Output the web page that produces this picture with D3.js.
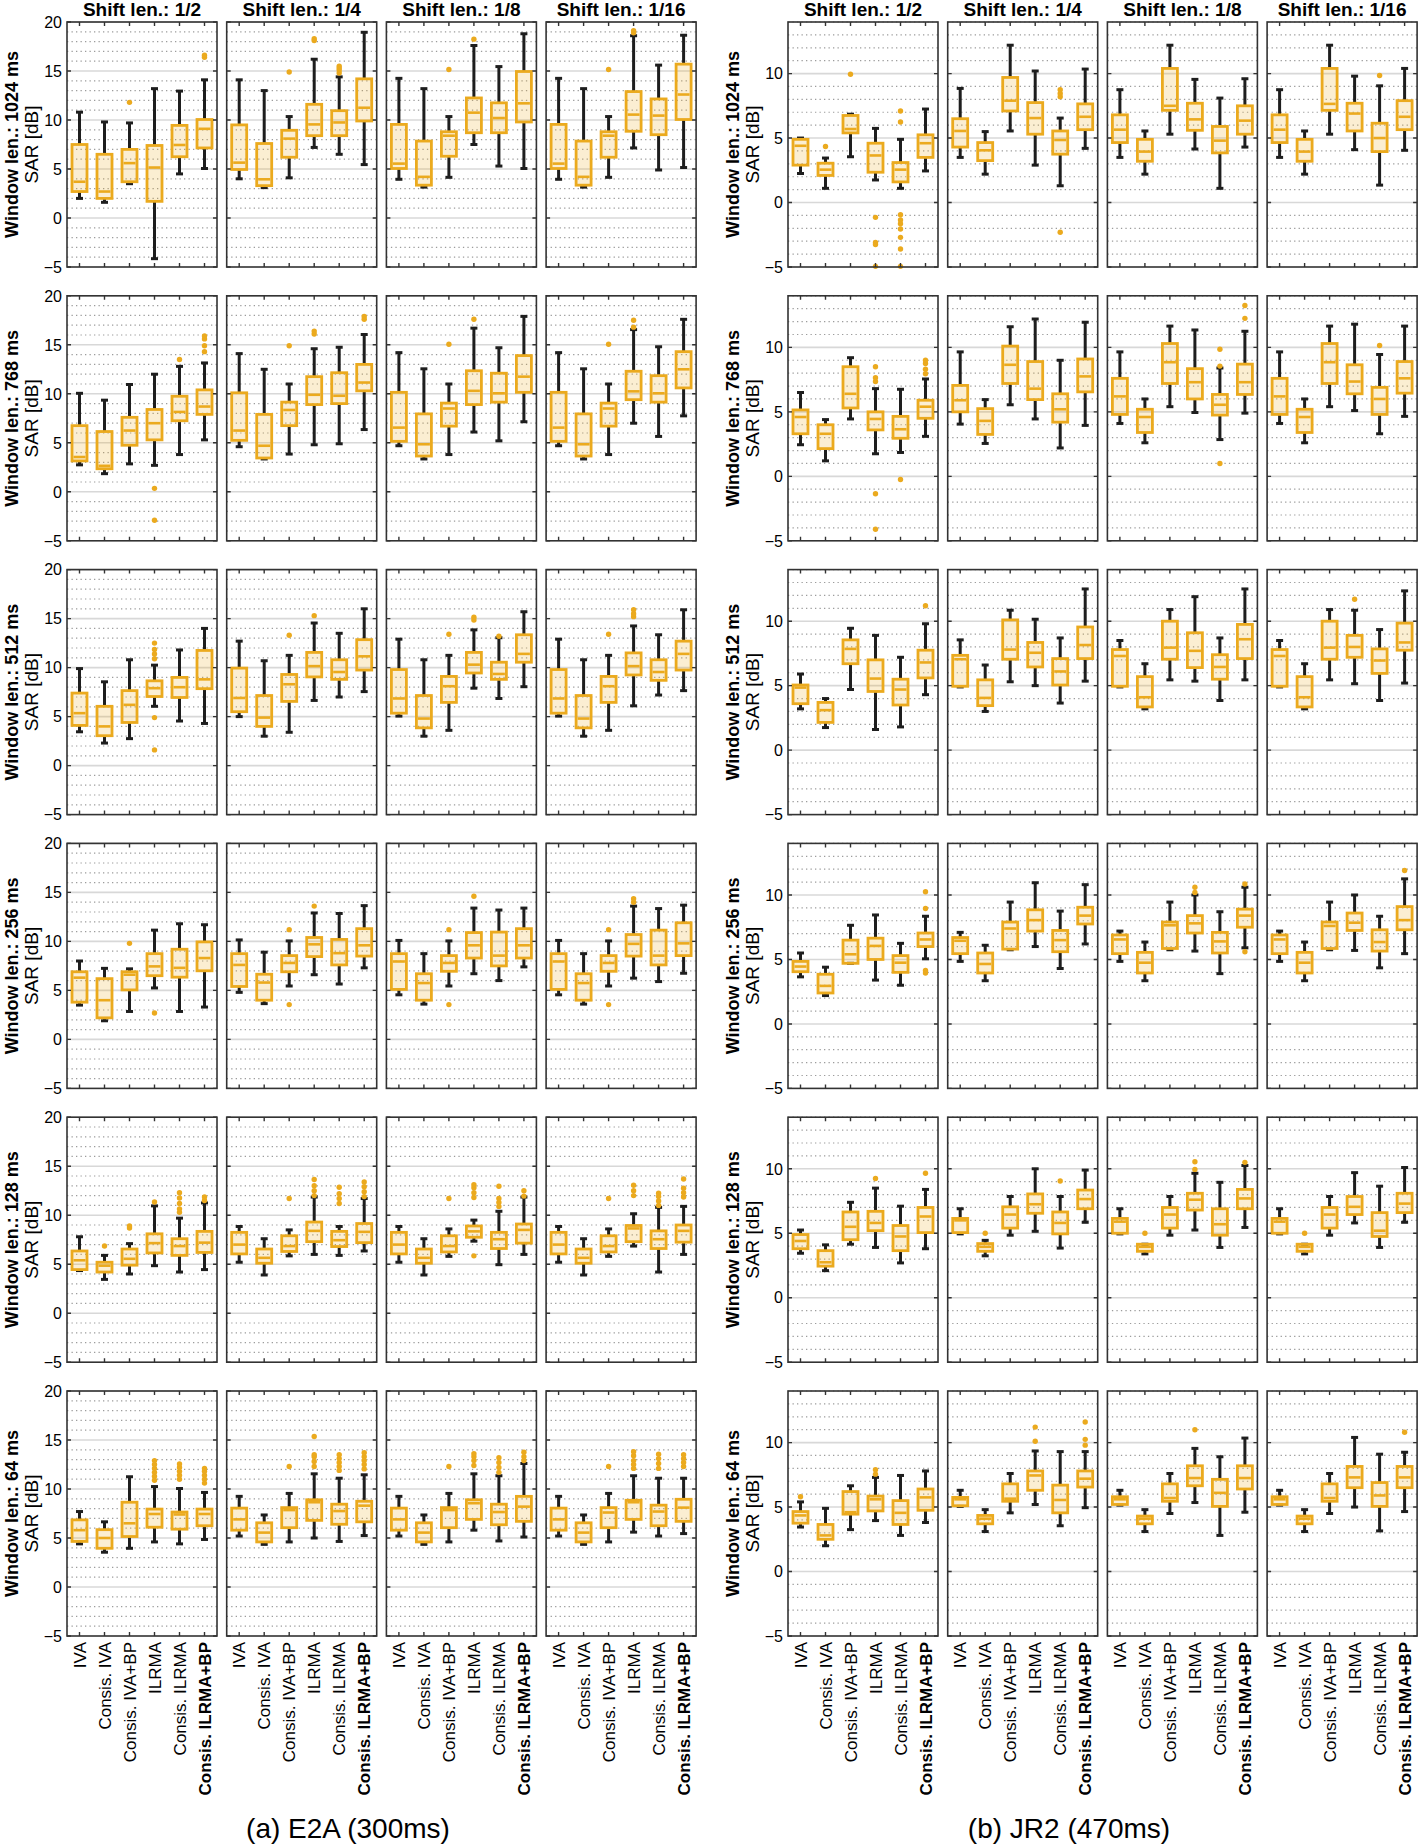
<!DOCTYPE html>
<html>
<head>
<meta charset="utf-8">
<script src="https://cdn.jsdelivr.net/npm/d3@7"></script>
<style>
body { margin: 0; background: #fff; }
svg { display: block; font-family: "Liberation Sans", Arial, sans-serif; }
</style>
</head>
<body>
<main></main>
<script>
// categories / labels
const windowLens = ["1024", "768", "512", "256", "128", "64"];
const shiftLens = ["1/2", "1/4", "1/8", "1/16"];
const methods = ["IVA", "Consis. IVA", "Consis. IVA+BP", "ILRMA", "Consis. ILRMA", "Consis. ILRMA+BP"];
const e2aTicks = [-5, 0, 5, 10, 15, 20];
const jr2Ticks = [-5, 0, 5, 10];

// each box: [lower whisker, q1, median, q3, upper whisker, outliers]
// rows = window length, 4 columns = shift length, 6 boxes = methods
const e2a1024 = [
	[[2.0,2.7,3.7,7.5,10.8,[]],[1.6,2.0,2.7,6.5,9.8,[]],[3.5,3.7,5.6,7.0,9.7,[11.8]],[-4.15,1.7,5.15,7.4,13.2,[]],[4.5,6.25,7.45,9.45,12.95,[]],[5.05,7.15,9.1,10.05,14.1,[16.4,16.6]]],
	[[4.0,4.95,5.65,9.5,14.1,[]],[3.1,3.3,3.95,7.6,13.0,[]],[4.1,6.2,8.1,8.95,10.35,[14.9]],[7.2,8.4,9.55,11.6,16.2,[18.1,18.3]],[6.5,8.4,9.75,10.95,14.4,[14.8,15.1,15.3,15.5]],[5.45,9.9,11.25,14.2,18.95,[]]],
	[[3.95,5.05,5.55,9.55,14.25,[]],[3.15,3.35,4.2,7.85,13.2,[]],[4.15,6.3,8.4,8.8,10.35,[15.15]],[7.5,8.7,10.75,12.25,17.6,[18.25]],[5.3,8.7,10.2,11.75,15.45,[]],[5.05,9.8,11.7,14.95,18.8,[]]],
	[[3.95,5.05,5.55,9.55,14.25,[]],[3.15,3.35,4.2,7.85,13.2,[]],[4.15,6.2,8.4,8.8,10.35,[15.15]],[7.15,8.85,10.55,12.9,18.6,[18.9,19.1]],[4.9,8.5,10.45,12.15,15.6,[]],[5.15,10.05,12.6,15.7,18.65,[]]]
];
const e2a768 = [
	[[2.75,3.15,3.55,6.75,10.05,[]],[1.85,2.35,2.65,6.15,9.35,[]],[2.85,4.75,6.25,7.6,10.95,[]],[2.7,5.3,7.0,8.4,12.0,[0.35,-2.9]],[3.8,7.25,8.15,9.75,12.8,[13.5]],[5.3,7.9,8.7,10.4,13.15,[14.3,14.9,15.6,15.9]]],
	[[4.6,5.25,6.25,10.1,14.1,[]],[3.35,3.45,4.7,7.9,12.5,[]],[3.85,6.75,8.35,9.15,11.0,[14.9]],[4.8,8.9,9.9,11.75,14.6,[16.1,16.4]],[4.9,9.0,9.8,12.15,14.75,[]],[6.35,10.3,11.15,13.0,16.05,[17.6,17.9]]],
	[[4.7,5.15,6.55,10.15,14.2,[]],[3.35,3.65,4.85,7.95,12.55,[]],[3.8,6.7,8.5,9.05,11.0,[15.05]],[6.1,8.9,10.3,12.35,16.7,[17.6]],[5.2,9.15,10.05,12.1,14.7,[]],[7.15,10.15,11.75,13.9,17.9,[]]],
	[[4.7,5.15,6.55,10.15,14.2,[]],[3.35,3.65,4.85,7.95,12.55,[]],[3.8,6.7,8.5,9.05,11.0,[15.05]],[7.0,9.4,10.25,12.3,16.55,[16.8,17.5]],[5.65,9.15,10.05,11.85,14.8,[]],[7.75,10.6,12.5,14.3,17.6,[]]]
];
const e2a512 = [
	[[3.45,4.1,5.35,7.4,9.9,[]],[2.3,3.05,4.0,6.05,8.55,[]],[2.75,4.4,6.2,7.65,10.8,[]],[6.05,7.05,7.9,8.65,10.25,[10.9,11.4,11.85,12.5,4.9,1.6]],[4.55,6.95,8.0,9.0,11.8,[]],[4.3,7.85,8.8,11.75,14.0,[]]],
	[[5.0,5.5,6.9,9.95,12.7,[]],[3.0,4.0,4.9,7.15,10.7,[]],[3.4,6.55,8.3,9.3,11.25,[13.3]],[6.65,9.05,10.15,11.55,14.55,[15.3]],[7.0,8.8,9.55,10.8,13.5,[]],[7.55,9.75,11.15,12.85,16.0,[]]],
	[[5.05,5.35,6.85,9.8,12.9,[]],[3.0,3.85,4.8,7.15,10.8,[]],[3.6,6.45,8.1,9.1,11.25,[13.4]],[7.9,9.45,10.3,11.55,13.85,[14.85,15.15]],[6.85,8.8,9.35,10.55,13.05,[13.2]],[8.05,10.55,11.4,13.35,15.7,[]]],
	[[5.05,5.35,6.85,9.8,12.9,[]],[3.0,3.85,4.8,7.15,10.8,[]],[3.6,6.45,8.1,9.1,11.25,[13.4]],[6.1,9.25,10.15,11.5,14.25,[15.2,15.5,15.9]],[7.2,8.7,9.55,10.8,13.35,[]],[7.65,9.75,11.4,12.7,15.9,[]]]
];
const e2a256 = [
	[[3.5,3.8,6.3,6.9,8.0,[]],[1.9,2.2,4.0,6.2,7.25,[]],[2.85,5.05,6.6,6.9,7.2,[9.8]],[5.25,6.5,7.45,8.75,11.15,[2.7]],[2.85,6.35,7.3,9.2,11.8,[]],[3.3,7.0,8.3,9.95,11.7,[]]],
	[[4.8,5.4,7.6,8.75,10.15,[]],[3.65,4.0,5.8,6.65,8.9,[]],[5.45,6.9,7.8,8.55,10.05,[11.2,3.55]],[6.6,8.45,9.7,10.4,12.9,[13.6]],[5.65,7.6,8.8,10.2,12.85,[]],[7.3,8.5,9.6,11.3,13.65,[]]],
	[[4.55,5.1,7.95,8.75,10.1,[]],[3.6,4.0,5.75,6.7,8.75,[]],[5.45,6.95,7.8,8.55,10.05,[11.2,3.55]],[6.7,8.3,9.6,10.9,13.4,[14.6]],[6.0,7.5,8.55,10.95,13.2,[]],[7.4,8.3,9.6,11.3,13.4,[]]],
	[[4.55,5.1,7.95,8.75,10.1,[]],[3.6,4.0,5.75,6.7,8.75,[]],[5.45,6.95,7.8,8.55,10.05,[11.2,3.55]],[6.25,8.5,9.75,10.7,13.6,[14.0,14.35]],[5.9,7.6,8.55,11.15,13.35,[]],[6.75,8.55,9.8,11.9,13.7,[]]]
];
const e2a128 = [
	[[4.35,4.45,5.4,6.35,7.8,[]],[3.45,4.2,4.85,5.2,5.9,[6.85]],[4.0,4.9,5.55,6.55,7.1,[8.7,8.9]],[4.85,6.15,7.15,8.1,10.95,[11.35]],[4.2,5.9,6.85,7.6,9.7,[10.3,10.65,11.2,11.75,12.3]],[4.45,6.2,7.2,8.35,11.25,[11.5,11.85]]],
	[[5.2,6.05,7.0,8.25,8.85,[]],[3.9,5.1,5.65,6.55,7.6,[]],[5.85,6.3,6.85,7.9,8.5,[11.7]],[6.0,7.3,8.4,9.3,11.85,[12.0,12.5,13.0,13.65]],[5.9,6.8,7.45,8.35,8.85,[11.2,11.7,12.2,12.85]],[6.35,7.2,8.3,9.15,11.7,[11.9,12.4,12.9,13.4]]],
	[[5.2,6.05,7.0,8.25,8.85,[]],[3.9,5.1,5.65,6.55,7.6,[]],[5.8,6.25,6.85,7.9,8.6,[11.7]],[7.35,7.75,8.35,8.9,9.5,[5.85,11.8,12.3,12.8,13.1]],[4.95,6.6,7.55,8.25,10.4,[10.9,11.3,11.7,12.95]],[6.0,7.15,8.5,9.1,11.85,[11.95,12.5]]],
	[[5.2,6.05,7.0,8.25,8.85,[]],[3.9,5.1,5.65,6.55,7.6,[]],[5.8,6.25,6.85,7.9,8.6,[11.7]],[6.85,7.3,8.65,8.95,10.15,[12.0,12.5,13.05]],[4.2,6.6,7.55,8.4,10.8,[11.0,11.45,11.9,12.25]],[6.0,7.25,8.4,9.0,10.9,[11.85,12.3,12.75,13.7]]]
];
const e2a64 = [
	[[4.4,4.65,5.8,6.85,7.7,[]],[3.55,3.95,5.0,5.85,6.65,[]],[3.95,5.15,6.5,8.65,11.25,[]],[4.6,6.1,7.45,7.95,10.25,[10.9,11.3,11.7,12.1,12.5,12.9]],[4.4,5.9,7.4,7.65,10.05,[11.0,11.4,11.8,12.2,12.55]],[4.85,6.25,7.45,7.95,9.65,[10.6,11.0,11.4,11.8,12.1]]],
	[[5.2,5.8,6.9,8.05,9.25,[]],[4.35,4.6,5.55,6.55,7.35,[]],[4.6,6.05,7.85,8.1,9.55,[12.3]],[5.0,6.8,8.65,8.9,11.55,[12.3,12.8,13.3,13.5,15.35]],[4.65,6.4,7.75,8.45,11.1,[11.9,12.3,12.7,13.1,13.5]],[5.25,6.65,8.3,8.75,11.45,[12.05,12.5,12.9,13.3,13.7]]],
	[[5.2,5.8,6.9,8.05,9.25,[]],[4.35,4.6,5.55,6.55,7.35,[]],[4.6,6.05,7.85,8.1,9.55,[12.3]],[5.8,6.9,8.55,8.9,11.55,[12.4,12.9,13.3,13.6]],[4.7,6.35,7.65,8.45,11.35,[11.7,12.2,12.7,13.2]],[5.1,6.7,8.2,9.25,12.6,[12.9,13.3,13.75]]],
	[[5.2,5.8,6.9,8.05,9.25,[]],[4.35,4.6,5.55,6.55,7.35,[]],[4.6,6.05,7.6,8.1,9.55,[12.3]],[5.6,6.9,8.65,8.85,11.35,[12.1,12.5,12.9,13.4,13.8]],[5.2,6.25,7.7,8.35,11.1,[12.1,12.6,13.1,13.55]],[5.45,6.7,8.1,8.95,11.1,[12.3,12.7,13.1,13.5]]]
];

const jr21024 = [
	[[2.25,2.9,4.4,4.9,5.0,[]],[1.1,2.1,2.55,3.05,3.45,[4.35]],[3.55,5.4,5.7,6.75,6.85,[9.95]],[1.75,2.35,3.65,4.6,5.75,[-1.15,-3.1,-3.25,-4.95]],[1.1,1.6,2.55,3.1,4.9,[7.1,6.25,-0.95,-1.35,-1.65,-2.05,-2.7,-3.6,-4.95]],[2.45,3.5,4.6,5.25,7.25,[]]],
	[[3.5,4.3,5.55,6.5,8.85,[]],[2.2,3.25,4.05,4.65,5.5,[]],[5.55,7.1,7.9,9.7,12.2,[]],[2.9,5.3,6.55,7.75,10.2,[]],[1.3,3.75,4.85,5.55,6.55,[8.2,8.45,8.75,-2.3]],[4.2,5.65,6.65,7.65,10.35,[]]],
	[[3.5,4.65,5.65,6.8,8.75,[]],[2.2,3.2,3.95,4.9,5.55,[]],[5.3,7.15,7.5,10.4,12.2,[]],[4.15,5.6,6.45,7.7,9.55,[]],[1.1,3.85,4.8,5.9,8.1,[]],[4.3,5.3,6.35,7.5,9.6,[]]],
	[[3.5,4.65,5.65,6.8,8.75,[]],[2.2,3.2,3.95,4.9,5.55,[]],[5.3,7.15,7.65,10.4,12.2,[]],[4.1,5.55,6.9,7.7,9.8,[]],[1.35,3.95,5.0,6.15,9.05,[9.85]],[4.05,5.65,6.65,7.9,10.4,[]]]
];
const jr2768 = [
	[[2.45,3.3,4.6,5.15,6.5,[]],[1.2,2.15,3.3,4.0,4.4,[]],[4.45,5.3,6.4,8.5,9.2,[]],[1.75,3.6,4.45,5.0,6.8,[8.5,7.65,7.35,-1.35,-4.1]],[1.85,2.95,3.65,4.65,6.75,[-0.25]],[3.1,4.5,5.4,5.9,7.55,[7.95,8.3,8.75,9.0]]],
	[[4.05,5.0,5.9,7.05,9.65,[]],[2.55,3.25,4.3,5.25,5.95,[]],[5.55,7.2,8.65,10.1,11.6,[]],[4.45,5.95,6.8,8.9,12.2,[]],[2.2,4.2,5.2,6.4,9.0,[]],[3.95,6.55,7.75,9.1,11.95,[]]],
	[[4.1,4.8,6.2,7.6,9.65,[]],[2.6,3.4,4.6,5.2,6.0,[]],[5.4,7.2,8.85,10.3,11.65,[]],[4.95,6.0,7.3,8.35,11.35,[]],[2.85,4.75,5.55,6.35,8.4,[9.85,8.55,1.0]],[4.9,6.35,7.3,8.7,11.25,[12.25,13.25]]],
	[[4.1,4.8,6.2,7.6,9.65,[]],[2.6,3.4,4.6,5.2,6.0,[]],[5.4,7.2,8.85,10.3,11.65,[]],[5.1,6.4,7.35,8.65,11.8,[]],[3.3,4.8,6.0,6.9,9.45,[10.15]],[4.65,6.45,7.6,8.9,11.65,[]]]
];
const jr2512 = [
	[[3.2,3.6,4.85,5.05,5.9,[]],[1.75,2.15,3.1,3.7,4.0,[]],[4.7,6.7,7.85,8.55,9.45,[]],[1.6,4.55,5.55,7.0,8.9,[]],[1.8,3.5,4.7,5.5,7.2,[]],[4.3,5.6,6.8,7.75,9.8,[11.2]]],
	[[4.9,4.95,7.05,7.35,8.55,[]],[3.0,3.45,4.05,5.45,6.6,[]],[5.3,7.05,7.8,10.1,10.85,[]],[5.0,6.45,7.55,8.35,10.15,[]],[3.65,5.05,6.1,7.1,8.7,[]],[5.35,7.1,8.15,9.55,12.5,[]]],
	[[4.9,4.95,7.3,7.8,8.5,[]],[3.2,3.35,4.1,5.7,6.7,[]],[5.45,7.05,7.95,10.0,10.9,[]],[5.35,6.4,7.7,9.1,11.9,[]],[3.85,5.5,6.45,7.4,8.7,[]],[5.45,7.1,8.6,9.75,12.5,[]]],
	[[4.9,4.95,7.3,7.8,8.5,[]],[3.2,3.35,4.1,5.7,6.7,[]],[5.45,7.05,7.95,10.0,10.9,[]],[5.15,7.2,8.0,8.9,10.85,[11.7]],[3.85,5.95,6.95,7.85,9.35,[]],[5.2,7.75,8.35,9.85,12.35,[]]]
];
const jr2256 = [
	[[3.65,4.05,4.45,4.85,5.5,[]],[2.2,2.4,2.95,3.85,4.4,[]],[4.7,4.7,5.4,6.5,7.65,[]],[3.4,5.0,6.05,6.65,8.45,[]],[3.0,4.0,4.75,5.3,6.25,[]],[5.05,6.0,6.55,7.05,8.35,[10.25,8.95,4.15,3.95]]],
	[[4.85,5.45,6.45,6.7,7.1,[]],[3.35,3.95,4.65,5.5,6.1,[]],[5.75,5.8,7.4,7.9,9.45,[]],[6.0,7.2,8.05,8.85,10.95,[]],[4.3,5.6,6.5,7.25,8.75,[]],[6.2,7.75,8.4,9.05,10.8,[]]],
	[[4.85,5.45,6.55,6.9,7.2,[]],[3.35,3.95,4.75,5.55,6.35,[]],[5.75,5.85,7.65,7.9,9.45,[]],[5.65,7.05,7.8,8.4,10.0,[10.2,10.6]],[3.9,5.5,6.4,7.1,8.7,[]],[5.9,7.5,8.4,8.9,10.6,[10.85,5.6]]],
	[[4.85,5.45,6.55,6.9,7.2,[]],[3.35,3.95,4.75,5.55,6.35,[]],[5.75,5.85,7.6,7.9,9.45,[]],[5.7,7.25,7.85,8.6,10.0,[]],[4.35,5.65,6.35,7.3,8.35,[]],[5.45,7.3,8.05,9.1,11.25,[11.9]]]
];
const jr2128 = [
	[[3.45,3.8,4.4,4.9,5.25,[]],[2.1,2.45,2.75,3.65,4.1,[]],[4.15,4.5,5.5,6.65,7.4,[]],[3.9,5.2,5.8,6.7,8.5,[9.25]],[2.7,3.65,4.75,5.6,7.1,[]],[3.8,5.05,6.3,7.0,8.4,[9.65]]],
	[[4.95,5.05,6.0,6.15,6.9,[]],[3.25,3.6,3.95,4.2,4.45,[5.0]],[4.85,5.4,6.45,7.05,7.85,[]],[5.15,6.55,7.25,8.05,10.0,[]],[3.85,4.95,5.8,6.65,7.85,[9.05]],[5.85,6.9,7.65,8.35,9.9,[]]],
	[[4.95,5.0,5.9,6.15,6.9,[]],[3.4,3.6,3.95,4.15,4.15,[5.0]],[4.85,5.4,6.45,7.0,7.85,[]],[5.25,6.8,7.6,8.1,9.65,[9.95,10.55]],[3.9,4.85,5.7,6.9,8.95,[]],[5.45,6.9,7.7,8.4,10.25,[10.5]]],
	[[4.95,5.0,5.9,6.15,6.9,[]],[3.4,3.6,3.95,4.15,4.15,[5.0]],[4.85,5.4,6.45,7.0,7.85,[]],[5.8,6.45,7.05,7.85,9.7,[]],[3.9,4.75,5.2,6.6,8.65,[]],[5.85,6.6,7.3,8.1,10.1,[]]]
];
const jr264 = [
	[[3.45,3.75,4.35,4.65,5.4,[5.8]],[2.0,2.5,2.8,3.65,4.9,[]],[3.25,4.45,4.6,6.2,6.65,[]],[3.95,4.7,5.6,5.85,7.3,[7.55,7.9]],[2.8,3.65,4.55,5.5,7.45,[]],[3.8,4.75,5.75,6.4,7.8,[]]],
	[[5.05,5.1,5.6,5.75,6.3,[]],[3.1,3.7,4.1,4.35,4.8,[]],[4.55,5.45,5.65,6.8,7.6,[]],[5.2,6.3,7.45,7.8,9.35,[11.2,10.1]],[3.55,4.55,5.55,6.7,9.3,[]],[4.95,6.55,7.2,7.8,9.3,[11.6,10.25,9.8]]],
	[[5.15,5.2,5.6,5.8,6.3,[]],[3.1,3.7,4.1,4.3,4.8,[]],[4.5,5.45,5.7,6.8,7.6,[]],[5.35,6.65,7.25,8.2,9.55,[11.0]],[2.8,5.05,6.1,7.15,8.9,[]],[4.6,6.4,7.25,8.2,10.35,[]]],
	[[5.15,5.2,5.6,5.8,6.3,[]],[3.1,3.7,4.1,4.3,4.8,[]],[4.5,5.45,5.7,6.8,7.6,[]],[5.0,6.5,7.3,8.15,10.4,[]],[3.15,5.05,5.9,6.9,9.1,[]],[4.65,6.5,7.3,8.15,9.25,[10.8]]]
];

const w = 1418,
	h = 1846,
	pw = 150,
	ph = 245,
	colStep = 159.7,
	rowStep = 273.8,
	top0 = 22,
	orange = "#EBAA1E";

const svg = d3.select("main")
	.append("svg")
	.attr("width", w)
	.attr("height", h)
	.style("background", "#fff");

const xScale = d3.scalePoint()
	.domain(methods)
	.range([0, pw])
	.padding(0.5);

const groups = [
	{left: 67, domain: [-5, 20], ticks: e2aTicks, rows: [e2a1024, e2a768, e2a512, e2a256, e2a128, e2a64], caption: "(a) E2A (300ms)", capX: 348},
	{left: 788, domain: [-5, 14], ticks: jr2Ticks, rows: [jr21024, jr2768, jr2512, jr2256, jr2128, jr264], caption: "(b) JR2 (470ms)", capX: 1069}
];

const fmt = (v) => v < 0 ? "\u2212" + Math.abs(v) : String(v);

groups.forEach((g) => {
	const yScale = d3.scaleLinear().domain(g.domain).range([ph, 0]);
	const minor = d3.range(g.domain[0], g.domain[1] + 1).filter((v) => v % 5 !== 0);
	const major = d3.range(g.domain[0], g.domain[1] + 1).filter((v) => v % 5 === 0);

	g.rows.forEach((row, ri) => {
		const ty = top0 + ri * rowStep;

		// row labels + y axis labels
		svg.append("text")
			.attr("transform", "translate(" + (g.left - 49) + "," + (ty + ph / 2) + ") rotate(-90)")
			.attr("text-anchor", "middle")
			.style("font-size", "18px")
			.style("font-weight", "bold")
			.text("Window len.: " + windowLens[ri] + " ms");
		svg.append("text")
			.attr("transform", "translate(" + (g.left - 29) + "," + (ty + ph / 2) + ") rotate(-90)")
			.attr("text-anchor", "middle")
			.style("font-size", "19px")
			.text("SAR [dB]");

		svg.append("g")
			.selectAll("text")
			.data(g.ticks)
			.enter()
			.append("text")
			.attr("x", g.left - 5)
			.attr("y", (d) => ty + yScale(d))
			.attr("dy", "0.36em")
			.attr("text-anchor", "end")
			.style("font-size", "16px")
			.text(fmt);

		row.forEach((col, ci) => {
			const px = g.left + ci * colStep;
			const p = svg.append("g").attr("transform", "translate(" + px + "," + ty + ")");

			//grid
			p.selectAll(".minor")
				.data(minor)
				.enter()
				.append("line")
				.attr("x1", 0).attr("x2", pw)
				.attr("y1", (d) => yScale(d)).attr("y2", (d) => yScale(d))
				.attr("stroke", "#9c9c9c")
				.attr("stroke-width", 1.2)
				.attr("stroke-dasharray", "1.3,3.2");
			p.selectAll(".major")
				.data(major.filter((d) => d > g.domain[0]))
				.enter()
				.append("line")
				.attr("x1", 0).attr("x2", pw)
				.attr("y1", (d) => yScale(d)).attr("y2", (d) => yScale(d))
				.attr("stroke", "#d8d8d8")
				.attr("stroke-width", 1.6);

			//boxes
			const b = p.selectAll(".box")
				.data(col)
				.enter()
				.append("g")
				.attr("transform", (d, i) => "translate(" + xScale(methods[i]) + ",0)");

			b.append("line")
				.attr("y1", (d) => yScale(d[0])).attr("y2", (d) => yScale(d[1]))
				.attr("stroke", "#1e1e1e").attr("stroke-width", 3);
			b.append("line")
				.attr("y1", (d) => yScale(d[3])).attr("y2", (d) => yScale(d[4]))
				.attr("stroke", "#1e1e1e").attr("stroke-width", 3);
			b.append("line")
				.attr("x1", -3.5).attr("x2", 3.5)
				.attr("y1", (d) => yScale(d[0])).attr("y2", (d) => yScale(d[0]))
				.attr("stroke", "#1e1e1e").attr("stroke-width", 3);
			b.append("line")
				.attr("x1", -3.5).attr("x2", 3.5)
				.attr("y1", (d) => yScale(d[4])).attr("y2", (d) => yScale(d[4]))
				.attr("stroke", "#1e1e1e").attr("stroke-width", 3);
			b.append("rect")
				.attr("x", -7.5)
				.attr("width", 15)
				.attr("y", (d) => yScale(d[3]))
				.attr("height", (d) => Math.max(yScale(d[1]) - yScale(d[3]), 1))
				.attr("fill", orange)
				.attr("fill-opacity", 0.2)
				.attr("stroke", orange)
				.attr("stroke-width", 2.8);
			b.append("line")
				.attr("x1", -6).attr("x2", 6)
				.attr("y1", (d) => yScale(d[2])).attr("y2", (d) => yScale(d[2]))
				.attr("stroke", orange).attr("stroke-width", 2.6);
			b.selectAll("circle")
				.data((d) => d[5])
				.enter()
				.append("circle")
				.attr("cy", (d) => yScale(d))
				.attr("r", 2.7)
				.attr("fill", orange);

			//frame + ticks
			p.append("rect")
				.attr("width", pw).attr("height", ph)
				.attr("fill", "none")
				.attr("stroke", "#333")
				.attr("stroke-width", 1.6);
			p.selectAll(".xt")
				.data(methods)
				.enter()
				.append("path")
				.attr("d", (d) => "M" + xScale(d) + ",0v4M" + xScale(d) + "," + ph + "v-4")
				.attr("stroke", "#333").attr("stroke-width", 1.4);
			p.selectAll(".yt")
				.data(major)
				.enter()
				.append("path")
				.attr("d", (d) => "M0," + yScale(d) + "h4M" + pw + "," + yScale(d) + "h-4")
				.attr("stroke", "#333").attr("stroke-width", 1.4);

			//Title
			if (ri === 0) {
				svg.append("text")
					.attr("x", px + pw / 2)
					.attr("y", 16)
					.attr("text-anchor", "middle")
					.style("font-size", "19px")
					.style("font-weight", "bold")
					.text("Shift len.: " + shiftLens[ci]);
			}

			//X labels
			if (ri === g.rows.length - 1) {
				p.selectAll(".xl")
					.data(methods)
					.enter()
					.append("text")
					.attr("transform", (d) => "translate(" + xScale(d) + "," + (ph + 6) + ") rotate(-90)")
					.attr("dy", "0.36em")
					.attr("text-anchor", "end")
					.style("font-size", "17px")
					.style("font-weight", (d, i) => i === methods.length - 1 ? "bold" : "normal")
					.text((d) => d);
			}
		});
	});

	svg.append("text")
		.attr("x", g.capX)
		.attr("y", 1838)
		.attr("text-anchor", "middle")
		.style("font-size", "28px")
		.text(g.caption);
});
</script>
</body>
</html>
